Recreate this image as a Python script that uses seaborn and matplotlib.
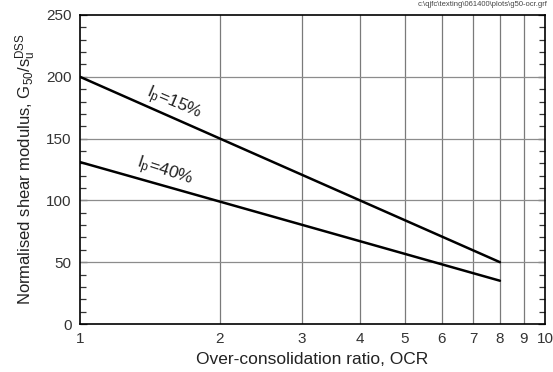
import matplotlib
matplotlib.use("Agg")
import matplotlib.pyplot as plt
from matplotlib.ticker import FixedLocator, FixedFormatter, NullFormatter, NullLocator
import numpy as np
import pandas as pd
import seaborn as sns

# G50/su(DSS) versus OCR for two plasticity indices
ocr = [1, 2, 4, 8]
g50_ip15 = [200, 150, 100, 50]
g50_ip40 = [131, 99, 67, 35]
series_labels = ["I$\\mathregular{_p}$=15%", "I$\\mathregular{_p}$=40%"]
x_ticks = [1, 2, 3, 4, 5, 6, 7, 8, 9, 10]
y_ticks = [0, 50, 100, 150, 200, 250]

df = pd.DataFrame({
    "OCR": ocr * 2,
    "G50": g50_ip15 + g50_ip40,
    "Ip": [series_labels[0]] * len(ocr) + [series_labels[1]] * len(ocr),
})

sns.set_theme(style="white")
plt.rcParams["font.family"] = ["Liberation Sans", "DejaVu Sans"]
plt.rcParams["mathtext.fontset"] = "custom"
plt.rcParams["mathtext.rm"] = "Liberation Sans"

fig = plt.figure(figsize=(5.53, 3.72), dpi=100)
ax = fig.add_axes([80 / 553, 48 / 372, 465 / 553, 309 / 372])

ax.set_xscale("log")
ax.set_xlim(1, 10)
ax.set_ylim(0, 250)

# grid lines
for xv in x_ticks[1:-1]:
    ax.axvline(xv, color="#7a7a7a", lw=0.9, zorder=1)
for yv in y_ticks[1:-1]:
    ax.axhline(yv, color="#8c8c8c", lw=0.9, zorder=1)

sns.lineplot(data=df, x="OCR", y="G50", hue="Ip", palette=["black", "black"],
             lw=1.8, legend=False, ax=ax, zorder=3)

ax.xaxis.set_major_locator(FixedLocator(x_ticks))
ax.xaxis.set_major_formatter(FixedFormatter([str(v) for v in x_ticks]))
ax.xaxis.set_minor_locator(NullLocator())
ax.xaxis.set_minor_formatter(NullFormatter())
ax.set_yticks(y_ticks)
ax.yaxis.set_minor_locator(FixedLocator(np.arange(0, 251, 10)))

ax.tick_params(axis="x", which="major", length=0, pad=6, labelsize=11, colors="#333333")
ax.tick_params(axis="y", which="major", direction="in", length=5, width=0.9,
               left=True, right=True, labelsize=11, colors="#333333", pad=6)
ax.tick_params(axis="y", which="minor", direction="in", length=4, width=0.9,
               left=True, right=True, color="#333333")
for lab in ax.get_xticklabels() + ax.get_yticklabels():
    lab.set_color("#333333")

for s in ax.spines.values():
    s.set_visible(True)
    s.set_color("black")
    s.set_linewidth(1.2)

ax.set_xlabel("Over-consolidation ratio, OCR", fontsize=12.5, color="#222222", labelpad=4)
ax.set_ylabel("Normalised shear modulus, G$\\mathregular{_{50}}$/s$\\mathregular{_u^{DSS}}$",
              fontsize=12, color="#222222", labelpad=6)

# series labels along the lines
ax.text(1.59, 178, series_labels[0], rotation=-23, fontsize=12.5, color="#222222",
        ha="center", va="center", zorder=4)
ax.text(1.52, 123, series_labels[1], rotation=-18, fontsize=12.5, color="#222222",
        ha="center", va="center", zorder=4)

fig.text(548 / 553, 1 - 5 / 372, "c:\\qjfc\\texting\\061400\\plots\\g50-ocr.grf",
         fontsize=5.5, color="#444444", ha="right", va="center")

fig.savefig("out.png", dpi=100)
